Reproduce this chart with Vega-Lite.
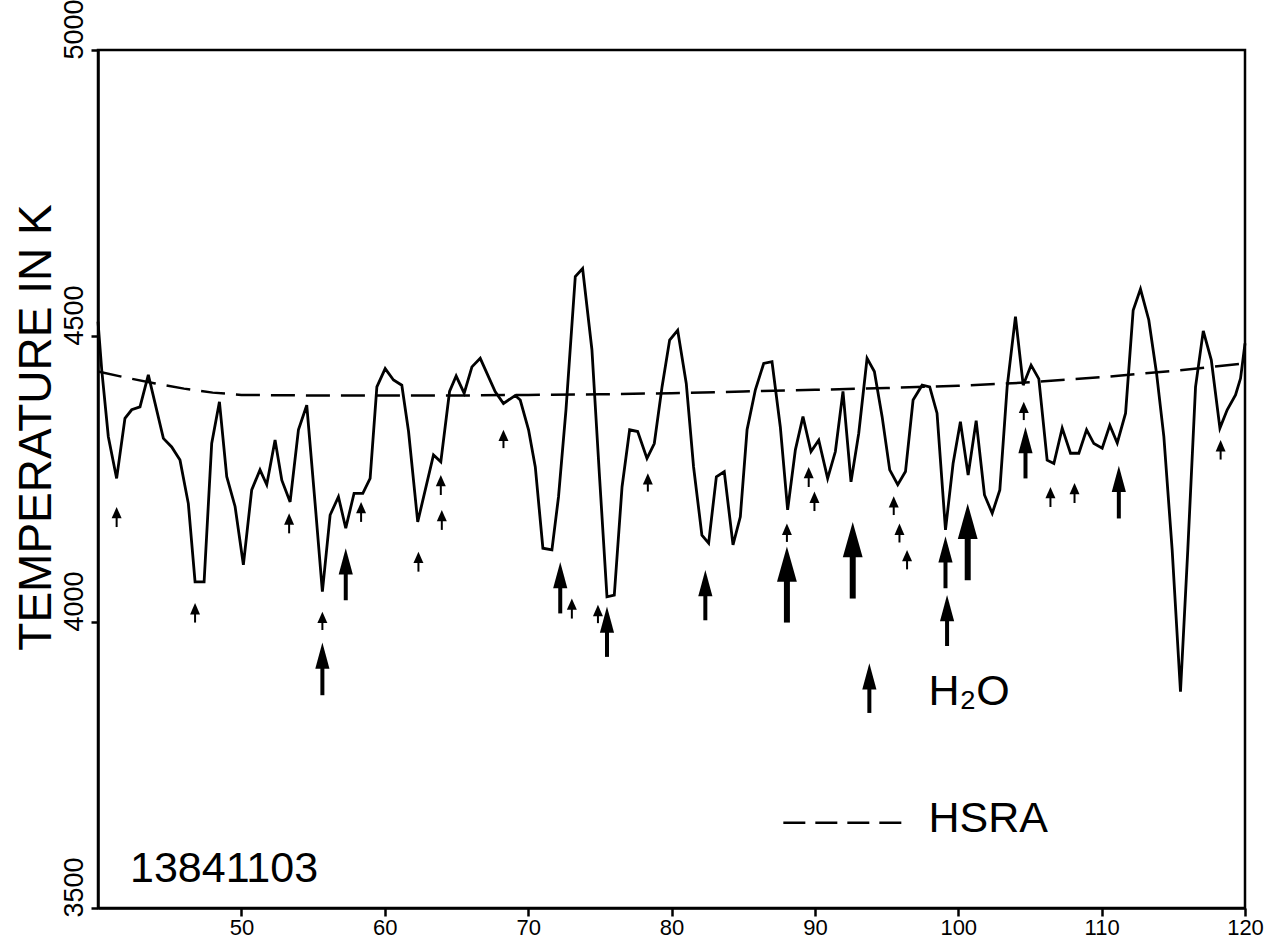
{
  "$schema": "https://vega.github.io/schema/vega-lite/v6.json",
  "width": 1147,
  "height": 858,
  "autosize": {"type": "none"},
  "padding": {"left": 98, "top": 50, "right": 31, "bottom": 31},
  "background": "white",
  "config": {
    "view": {"stroke": "black", "strokeWidth": 2.5},
    "font": "Liberation Sans",
    "axis": {
      "grid": false,
      "domainColor": "black", "domainWidth": 2.5,
      "tickColor": "black", "tickWidth": 2.5,
      "labelColor": "black", "labelFont": "Liberation Sans",
      "labelFlush": false, "labelOverlap": false,
      "titleColor": "black", "titleFont": "Liberation Sans"
    },
    "axisX": {
      "tickSize": 8, "labelFontSize": 22, "labelPadding": 1, "labelBaseline": "top"
    },
    "axisY": {
      "tickSize": 7, "labelFontSize": 27, "labelPadding": 3,
      "labelAngle": 270, "labelAlign": "left", "labelBaseline": "bottom", "labelOffset": 9,
      "titleFontSize": 46, "titleFontWeight": "normal",
      "titleAngle": 270, "titleAlign": "center", "titleBaseline": "alphabetic",
      "titleX": -48, "titleY": 377
    }
  },
  "datasets": {
    "curve": [
      {"x": 40.0, "t": 4525}, {"x": 40.26, "t": 4441}, {"x": 40.72, "t": 4324}, {"x": 41.3, "t": 4251},
      {"x": 41.88, "t": 4356}, {"x": 42.35, "t": 4371}, {"x": 42.93, "t": 4376}, {"x": 43.51, "t": 4432},
      {"x": 44.56, "t": 4321}, {"x": 45.14, "t": 4306}, {"x": 45.72, "t": 4283}, {"x": 46.3, "t": 4207},
      {"x": 46.77, "t": 4070}, {"x": 47.4, "t": 4070}, {"x": 47.93, "t": 4312}, {"x": 48.47, "t": 4385},
      {"x": 48.98, "t": 4254}, {"x": 49.56, "t": 4202}, {"x": 50.14, "t": 4100}, {"x": 50.72, "t": 4231},
      {"x": 51.3, "t": 4266}, {"x": 51.77, "t": 4240}, {"x": 52.35, "t": 4318}, {"x": 52.82, "t": 4248},
      {"x": 53.4, "t": 4210}, {"x": 53.98, "t": 4336}, {"x": 54.56, "t": 4379}, {"x": 55.14, "t": 4208},
      {"x": 55.65, "t": 4053}, {"x": 56.19, "t": 4187}, {"x": 56.77, "t": 4219}, {"x": 57.28, "t": 4164},
      {"x": 57.86, "t": 4225}, {"x": 58.47, "t": 4225}, {"x": 58.98, "t": 4251}, {"x": 59.45, "t": 4411},
      {"x": 60.03, "t": 4443}, {"x": 60.61, "t": 4423}, {"x": 61.19, "t": 4414}, {"x": 61.66, "t": 4333},
      {"x": 62.3, "t": 4175}, {"x": 63.4, "t": 4292}, {"x": 63.91, "t": 4280}, {"x": 64.52, "t": 4403},
      {"x": 64.98, "t": 4430}, {"x": 65.54, "t": 4400}, {"x": 66.08, "t": 4446}, {"x": 66.66, "t": 4461},
      {"x": 67.7, "t": 4403}, {"x": 68.28, "t": 4382}, {"x": 69.1, "t": 4396}, {"x": 69.45, "t": 4388},
      {"x": 70.03, "t": 4336}, {"x": 70.5, "t": 4271}, {"x": 71.03, "t": 4129}, {"x": 71.66, "t": 4126},
      {"x": 72.12, "t": 4219}, {"x": 72.64, "t": 4371}, {"x": 73.29, "t": 4604}, {"x": 73.8, "t": 4618},
      {"x": 74.45, "t": 4476}, {"x": 74.98, "t": 4254}, {"x": 75.5, "t": 4044}, {"x": 76.01, "t": 4047},
      {"x": 76.55, "t": 4236}, {"x": 77.08, "t": 4336}, {"x": 77.64, "t": 4333}, {"x": 78.29, "t": 4286},
      {"x": 78.8, "t": 4312}, {"x": 79.34, "t": 4411}, {"x": 79.87, "t": 4493}, {"x": 80.43, "t": 4510},
      {"x": 81.03, "t": 4417}, {"x": 81.54, "t": 4271}, {"x": 82.12, "t": 4152}, {"x": 82.59, "t": 4138},
      {"x": 83.13, "t": 4254}, {"x": 83.68, "t": 4263}, {"x": 84.29, "t": 4135}, {"x": 84.8, "t": 4184},
      {"x": 85.27, "t": 4336}, {"x": 85.85, "t": 4406}, {"x": 86.43, "t": 4452}, {"x": 87.01, "t": 4455},
      {"x": 87.59, "t": 4341}, {"x": 88.1, "t": 4196}, {"x": 88.64, "t": 4301}, {"x": 89.17, "t": 4359},
      {"x": 89.73, "t": 4298}, {"x": 90.27, "t": 4318}, {"x": 90.89, "t": 4251}, {"x": 91.43, "t": 4298},
      {"x": 91.96, "t": 4403}, {"x": 92.52, "t": 4245}, {"x": 93.06, "t": 4330}, {"x": 93.64, "t": 4461},
      {"x": 94.15, "t": 4438}, {"x": 94.69, "t": 4359}, {"x": 95.22, "t": 4266}, {"x": 95.78, "t": 4240},
      {"x": 96.32, "t": 4263}, {"x": 96.85, "t": 4388}, {"x": 97.48, "t": 4414}, {"x": 98.01, "t": 4411},
      {"x": 98.52, "t": 4365}, {"x": 99.11, "t": 4161}, {"x": 99.64, "t": 4277}, {"x": 100.15, "t": 4350},
      {"x": 100.69, "t": 4257}, {"x": 101.25, "t": 4352}, {"x": 101.83, "t": 4222}, {"x": 102.37, "t": 4190},
      {"x": 102.9, "t": 4231}, {"x": 103.41, "t": 4411}, {"x": 103.99, "t": 4534}, {"x": 104.53, "t": 4414},
      {"x": 105.08, "t": 4449}, {"x": 105.62, "t": 4425}, {"x": 106.2, "t": 4283}, {"x": 106.67, "t": 4277},
      {"x": 107.25, "t": 4339}, {"x": 107.83, "t": 4295}, {"x": 108.41, "t": 4295}, {"x": 108.95, "t": 4336},
      {"x": 109.46, "t": 4312}, {"x": 110.04, "t": 4304}, {"x": 110.57, "t": 4344}, {"x": 111.09, "t": 4313},
      {"x": 111.67, "t": 4365}, {"x": 112.2, "t": 4545}, {"x": 112.71, "t": 4582}, {"x": 113.29, "t": 4528},
      {"x": 113.83, "t": 4435}, {"x": 114.34, "t": 4324}, {"x": 114.92, "t": 4126}, {"x": 115.5, "t": 3878},
      {"x": 116.01, "t": 4126}, {"x": 116.55, "t": 4411}, {"x": 117.09, "t": 4509}, {"x": 117.65, "t": 4458},
      {"x": 118.25, "t": 4339}, {"x": 118.76, "t": 4371}, {"x": 119.34, "t": 4397}, {"x": 119.69, "t": 4426},
      {"x": 120.0, "t": 4487}
    ],
    "hsra": [
      {"x": 40, "t": 4438}, {"x": 42, "t": 4427}, {"x": 44, "t": 4417}, {"x": 46, "t": 4408},
      {"x": 48, "t": 4401}, {"x": 50, "t": 4397}, {"x": 55, "t": 4396}, {"x": 60, "t": 4396},
      {"x": 65, "t": 4396}, {"x": 70, "t": 4397}, {"x": 75, "t": 4398}, {"x": 80, "t": 4400},
      {"x": 85, "t": 4403}, {"x": 90, "t": 4406}, {"x": 95, "t": 4409}, {"x": 100, "t": 4413},
      {"x": 105, "t": 4419}, {"x": 110, "t": 4428}, {"x": 115, "t": 4439}, {"x": 120, "t": 4452}
    ],
    "arrows": [
      {"x": 41.3, "tip": 4201, "neck": 4191, "t": 4166, "kind": "small"},
      {"x": 46.77, "tip": 4033, "neck": 4023, "t": 3999, "kind": "small"},
      {"x": 53.33, "tip": 4190, "neck": 4180, "t": 4155, "kind": "small"},
      {"x": 55.65, "tip": 4018, "neck": 4008, "t": 3986, "kind": "small"},
      {"x": 55.65, "tip": 3964, "neck": 3926, "t": 3872, "kind": "medium"},
      {"x": 57.28, "tip": 4129, "neck": 4091, "t": 4038, "kind": "medium"},
      {"x": 58.35, "tip": 4210, "neck": 4200, "t": 4175, "kind": "small"},
      {"x": 62.35, "tip": 4123, "neck": 4113, "t": 4088, "kind": "small"},
      {"x": 63.91, "tip": 4257, "neck": 4247, "t": 4222, "kind": "small"},
      {"x": 63.98, "tip": 4196, "neck": 4186, "t": 4161, "kind": "small"},
      {"x": 68.28, "tip": 4336, "neck": 4326, "t": 4304, "kind": "small"},
      {"x": 72.24, "tip": 4105, "neck": 4067, "t": 4015, "kind": "medium"},
      {"x": 73.05, "tip": 4041, "neck": 4031, "t": 4006, "kind": "small"},
      {"x": 74.87, "tip": 4030, "neck": 4020, "t": 3998, "kind": "small"},
      {"x": 75.5, "tip": 4027, "neck": 3989, "t": 3939, "kind": "medium"},
      {"x": 78.35, "tip": 4260, "neck": 4250, "t": 4228, "kind": "small"},
      {"x": 82.36, "tip": 4091, "neck": 4053, "t": 4003, "kind": "medium"},
      {"x": 88.05, "tip": 4172, "neck": 4162, "t": 4140, "kind": "small"},
      {"x": 88.05, "tip": 4132, "neck": 4074, "t": 3999, "kind": "large"},
      {"x": 89.57, "tip": 4271, "neck": 4261, "t": 4236, "kind": "small"},
      {"x": 89.97, "tip": 4228, "neck": 4218, "t": 4194, "kind": "small"},
      {"x": 92.64, "tip": 4175, "neck": 4117, "t": 4041, "kind": "large"},
      {"x": 95.5, "tip": 4220, "neck": 4210, "t": 4187, "kind": "small"},
      {"x": 95.9, "tip": 4172, "neck": 4162, "t": 4139, "kind": "small"},
      {"x": 96.43, "tip": 4126, "neck": 4116, "t": 4092, "kind": "small"},
      {"x": 99.11, "tip": 4150, "neck": 4112, "t": 4059, "kind": "medium"},
      {"x": 99.22, "tip": 4047, "neck": 4009, "t": 3958, "kind": "medium"},
      {"x": 100.66, "tip": 4207, "neck": 4149, "t": 4073, "kind": "large"},
      {"x": 104.57, "tip": 4385, "neck": 4375, "t": 4353, "kind": "small"},
      {"x": 104.69, "tip": 4341, "neck": 4303, "t": 4251, "kind": "medium"},
      {"x": 106.43, "tip": 4236, "neck": 4226, "t": 4201, "kind": "small"},
      {"x": 108.11, "tip": 4243, "neck": 4233, "t": 4208, "kind": "small"},
      {"x": 111.2, "tip": 4273, "neck": 4235, "t": 4181, "kind": "medium"},
      {"x": 118.3, "tip": 4318, "neck": 4308, "t": 4284, "kind": "small"},
      {"x": 93.8, "tip": 3928, "neck": 3890, "t": 3841, "kind": "medium"}
    ],
    "legendline": [
      {"x": 87.8, "t": 3649}, {"x": 96.11, "t": 3649}
    ],
    "labels": [
      {"x": 42.23, "t": 3545, "text": "13841103"},
      {"x": 97.92, "t": 3855, "text": "H₂O"},
      {"x": 97.92, "t": 3633, "text": "HSRA"}
    ]
  },
  "encoding": {
    "x": {
      "field": "x", "type": "quantitative",
      "scale": {"domain": [40, 120], "nice": false, "zero": false},
      "axis": {"values": [50, 60, 70, 80, 90, 100, 110, 120], "title": null, "format": "d"}
    },
    "y": {
      "field": "t", "type": "quantitative",
      "scale": {"domain": [3500, 5000], "nice": false, "zero": false},
      "axis": {"values": [3500, 4000, 4500, 5000], "format": "d", "title": "TEMPERATURE IN K"}
    }
  },
  "layer": [
    {
      "data": {"name": "hsra"},
      "mark": {"type": "line", "color": "black", "strokeWidth": 2.5, "strokeDash": [24, 11]}
    },
    {
      "data": {"name": "curve"},
      "mark": {"type": "line", "color": "black", "strokeWidth": 2.8, "strokeJoin": "miter"}
    },
    {
      "data": {"name": "arrows"},
      "mark": {"type": "rule", "color": "black", "strokeCap": "butt"},
      "encoding": {
        "y2": {"field": "neck"},
        "strokeWidth": {
          "field": "kind", "type": "nominal",
          "scale": {"domain": ["small", "medium", "large"], "range": [2, 6, 8]},
          "legend": null
        }
      }
    },
    {
      "data": {"name": "arrows"},
      "mark": {"type": "point", "filled": true, "color": "black", "opacity": 1, "strokeWidth": 0},
      "encoding": {
        "y": {
          "field": "tip", "type": "quantitative",
          "scale": {"domain": [3500, 5000], "nice": false, "zero": false},
          "axis": {"values": [3500, 4000, 4500, 5000], "format": "d", "title": "TEMPERATURE IN K"}
        },
        "shape": {
          "field": "kind", "type": "nominal",
          "scale": {
            "domain": ["small", "medium", "large"],
            "range": ["M0,0L0.44,1L-0.44,1Z", "M0,0L0.27,1L-0.27,1Z", "M0,0L0.28,1L-0.28,1Z"]
          },
          "legend": null
        },
        "size": {
          "field": "kind", "type": "nominal",
          "scale": {"domain": ["small", "medium", "large"], "range": [512, 5000, 10950]},
          "legend": null
        }
      }
    },
    {
      "data": {"name": "legendline"},
      "mark": {"type": "line", "color": "black", "strokeWidth": 2.5, "strokeDash": [22, 10]}
    },
    {
      "data": {"name": "labels"},
      "mark": {"type": "text", "color": "black", "fontSize": 43, "align": "left", "baseline": "alphabetic", "font": "Liberation Sans"},
      "encoding": {"text": {"field": "text"}}
    }
  ]
}
